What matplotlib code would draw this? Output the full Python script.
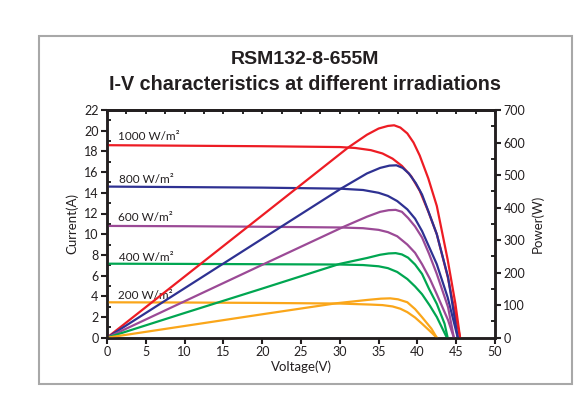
import matplotlib
matplotlib.use("Agg")
import matplotlib.pyplot as plt
from matplotlib.patches import Rectangle
from matplotlib.ticker import MultipleLocator

plt.rcParams["font.family"] = ["Lato", "DejaVu Sans"]

# irradiance labels and colours
levels = ["1000 W/m²", "800 W/m²", "600 W/m²", "400 W/m²", "200 W/m²"]
colors = ["#ed1c24", "#2e3192", "#9b4a96", "#00a651", "#faa61a"]

# I-V curves (voltage V, current A)
iv_v_1000 = [0, 10, 20, 30, 32, 34, 35.5, 36.8, 38, 39.2, 40.3, 41.4, 42.5, 43.9, 45.5]
iv_i_1000 = [18.6, 18.55, 18.5, 18.42, 18.33, 18.12, 17.8, 17.3, 16.6, 15.6, 14.2, 12.2, 10.0, 5.9, 0]
iv_v_800 = [0, 10, 20, 30, 33, 35, 36.2, 37.4, 38.7, 39.7, 40.6, 42.5, 43.9, 45.2]
iv_i_800 = [14.6, 14.55, 14.5, 14.4, 14.27, 14.0, 13.7, 13.2, 12.4, 11.5, 10.3, 7.1, 3.9, 0]
iv_v_600 = [0, 10, 20, 30, 33, 35, 36.2, 37.4, 38.7, 39.7, 40.6, 41.6, 42.5, 43.95, 44.7]
iv_i_600 = [10.8, 10.77, 10.72, 10.65, 10.58, 10.42, 10.2, 9.8, 9.0, 8.2, 7.1, 5.7, 4.2, 1.7, 0]
iv_v_400 = [0, 10, 20, 30, 33, 35, 36.2, 37.4, 38.7, 39.7, 40.6, 41.6, 42.5, 43.8]
iv_i_400 = [7.15, 7.13, 7.1, 7.07, 7.02, 6.9, 6.72, 6.35, 5.67, 4.95, 4.2, 3.1, 2.0, 0]
iv_v_200 = [0, 10, 20, 30, 34, 35.5, 36.8, 37.8, 38.7, 39.7, 40.6, 41.6, 42.5]
iv_i_200 = [3.42, 3.4, 3.36, 3.3, 3.2, 3.15, 3.02, 2.8, 2.47, 1.95, 1.35, 0.65, 0]

# P-V curves (voltage V, power W)
pv_v_1000 = [0, 10, 20, 31.1, 33.5, 35, 36.2, 37, 37.8, 38.7, 39.5, 40.3, 41.4, 42.5, 43.9, 44.9, 45.5]
pv_p_1000 = [0, 188, 376, 585, 624, 643, 651, 653, 646, 628, 600, 560, 490, 405, 240, 104, 0]
pv_v_800 = [0, 10, 20, 30.2, 33.5, 35.2, 36.4, 37.3, 38.1, 38.9, 39.8, 40.6, 41.5, 42.5, 43.95, 45.2]
pv_p_800 = [0, 152, 304, 459, 505, 522, 529, 530, 522, 505, 475, 440, 383, 318, 186, 0]
pv_v_600 = [0, 10, 20, 30.5, 33.5, 35.2, 36.3, 37.2, 38, 38.8, 39.7, 40.6, 41.5, 42.5, 43.95, 44.7]
pv_p_600 = [0, 112, 224, 341, 372, 387, 392, 393, 387, 368, 342, 308, 258, 196, 94, 0]
pv_v_400 = [0, 10, 20, 30, 33.5, 35.2, 36.3, 37.2, 38, 38.8, 39.7, 40.6, 41.5, 42.5, 43.5, 43.9]
pv_p_400 = [0, 76, 151, 227, 245, 255, 259, 260, 256, 246, 225, 196, 150, 104, 43, 0]
pv_v_200 = [0, 10, 20, 29.6, 33.5, 35.3, 36.5, 37.5, 38.7, 39.7, 40.6, 41.8, 42.5]
pv_p_200 = [0, 36, 72, 106, 116, 120, 121, 118, 109, 88, 63, 28, 0]

iv_curves = [(iv_v_1000, iv_i_1000), (iv_v_800, iv_i_800), (iv_v_600, iv_i_600),
             (iv_v_400, iv_i_400), (iv_v_200, iv_i_200)]
pv_curves = [(pv_v_1000, pv_p_1000), (pv_v_800, pv_p_800), (pv_v_600, pv_p_600),
             (pv_v_400, pv_p_400), (pv_v_200, pv_p_200)]
label_pos = [(1.4, 19.4), (1.6, 15.3), (1.4, 11.65), (1.6, 7.75), (1.4, 4.05)]

fig = plt.figure(figsize=(5.81, 3.96), dpi=100)
ax = fig.add_axes([107 / 581, 1 - 337.7 / 396, 388 / 581, 227.7 / 396])
ax2 = ax.twinx()

for (v, i), (pv, p), c in zip(iv_curves, pv_curves, colors):
    ax.plot(v, i, color=c, lw=1.6, solid_joinstyle="round", zorder=3)
    ax2.plot(pv, p, color=c, lw=1.6, solid_joinstyle="round")

for txt, (x, y) in zip(levels, label_pos):
    ax.text(x, y, txt, fontsize=8.5, color="#231f20", va="center", ha="left", zorder=5)

ax.set_xlim(0, 50)
ax.set_ylim(0, 22)
ax2.set_ylim(0, 700)
ax.xaxis.set_major_locator(MultipleLocator(5))
ax.yaxis.set_major_locator(MultipleLocator(2))
ax.yaxis.set_minor_locator(MultipleLocator(1))
ax2.yaxis.set_major_locator(MultipleLocator(100))
ax2.yaxis.set_minor_locator(MultipleLocator(50))

ax.tick_params(axis="both", which="major", direction="out", length=4, width=1.5,
               labelsize=9, pad=2, colors="#231f20")
ax.tick_params(axis="y", which="minor", direction="in", length=3, width=1.2)
ax2.tick_params(axis="y", which="major", direction="out", length=4, width=1.5,
                labelsize=9, pad=2, colors="#231f20")
ax2.tick_params(axis="y", which="minor", direction="in", length=3, width=1.2)

top = ax.secondary_xaxis("top")
top.set_xticks([k * 2.5 for k in range(21)])
top.tick_params(direction="in", length=3, width=1.2, labeltop=False)

for a in (ax, ax2):
    for s in a.spines.values():
        s.set_linewidth(1.8)
        s.set_color("#231f20")
top.spines["top"].set_linewidth(1.8)

ax.set_xlabel("Voltage(V)", fontsize=9.5, labelpad=2, color="#231f20")
ax.set_ylabel("Current(A)", fontsize=9.5, labelpad=4, color="#231f20")
ax2.set_ylabel("Power(W)", fontsize=9.5, labelpad=4, color="#231f20")

fig.text(305 / 581, 1 - 59.3 / 396, "RSM132-8-655M", ha="center", va="center",
         fontsize=14, fontweight="bold", family=["Liberation Sans Narrow", "Liberation Sans"],
         color="#231f20")
fig.text(305 / 581, 1 - 84 / 396, "I-V characteristics at different irradiations", ha="center",
         va="center", fontsize=14.2, fontweight="bold", family=["Liberation Sans Narrow", "Liberation Sans"],
         color="#231f20")

fig.add_artist(Rectangle((39 / 581, 1 - 384 / 396), (572 - 39) / 581, (384 - 35.7) / 396,
                         transform=fig.transFigure, fill=False, ec="#a8a8a8", lw=1.5))

fig.savefig("out.png", dpi=100)
